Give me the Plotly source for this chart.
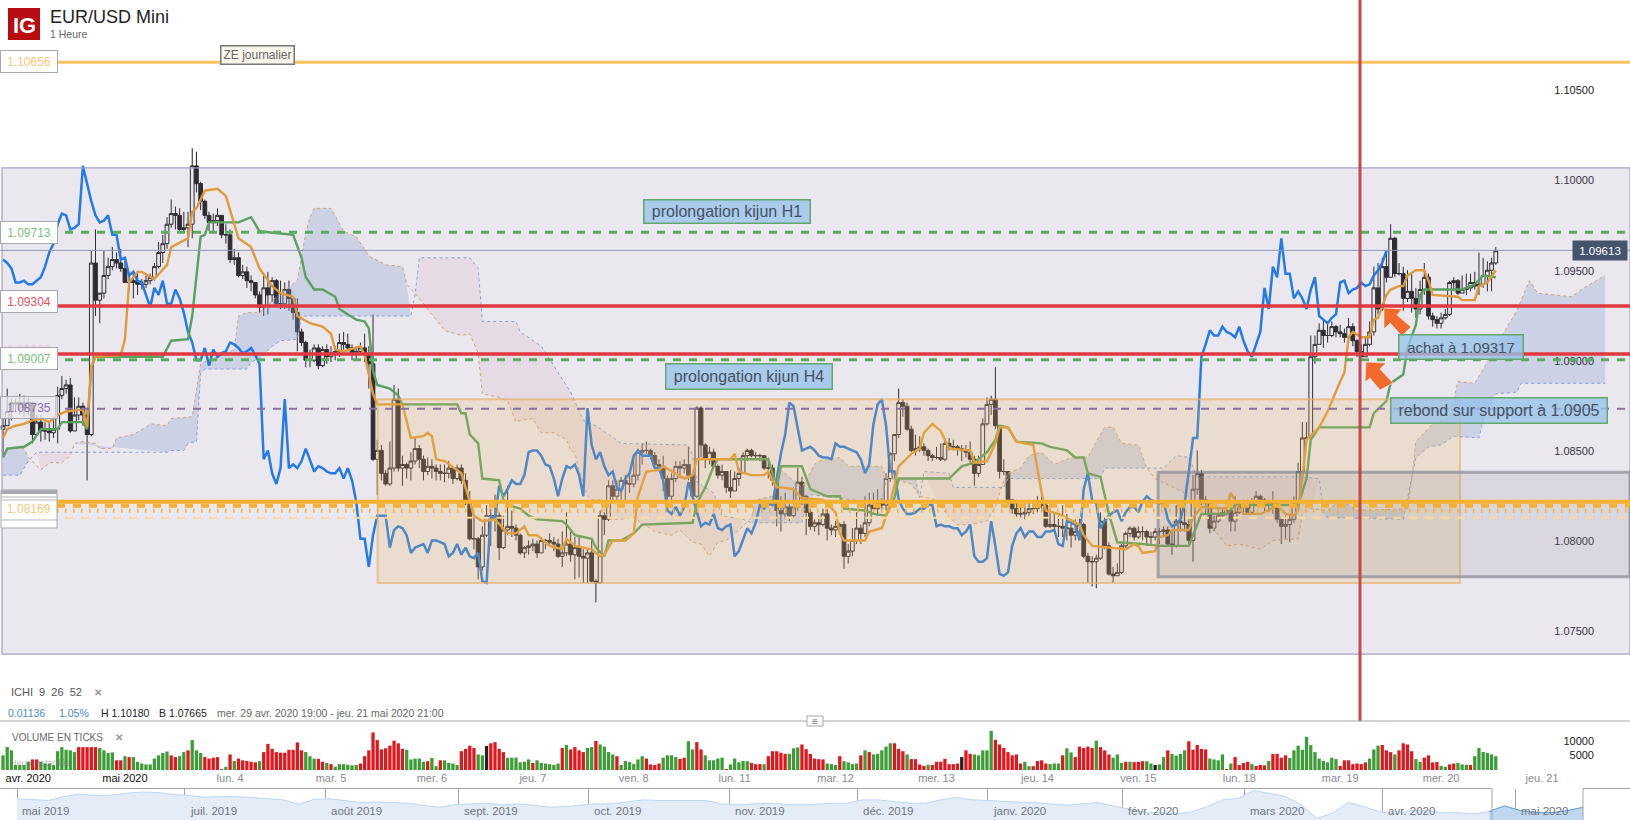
import plotly.graph_objects as go

W = 1630
H = 820

# candles in points (1.0935 -> 10935), open = previous close
close_pts = [
    10860,10868,10873,10872,10873,10870,10873,10855,10862,10857,
    10857,10856,10858,10877,10881,10883,10857,10866,10871,10866,
    10855,10952,10931,10935,10945,10950,10954,10952,10949,10941,
    10941,10942,10940,10940,10942,10944,10950,10958,10963,10974,
    10980,10979,10971,10972,10974,11007,10997,10987,10979,10975,
    10976,10979,10968,10968,10954,10955,10945,10947,10942,10941,
    10934,10927,10938,10934,10942,10929,10929,10937,10932,10924,
    10913,10907,10897,10897,10904,10894,10903,10899,10901,10902,
    10907,10906,10904,10901,10902,10904,10900,10895,10841,10846,
    10833,10827,10836,10875,10836,10838,10836,10840,10847,10841,
    10834,10837,10836,10834,10833,10833,10836,10830,10836,10829,
    10817,10796,10796,10780,10798,10809,10809,10809,10791,10801,
    10803,10802,10798,10788,10791,10792,10793,10788,10795,10795,
    10794,10793,10786,10788,10793,10787,10791,10786,10785,10788,
    10772,10771,10809,10807,10826,10820,10824,10829,10827,10827,
    10832,10845,10846,10846,10843,10838,10837,10830,10820,10830,
    10837,10836,10838,10832,10820,10870,10849,10841,10845,10837,
    10832,10834,10825,10823,10830,10833,10843,10846,10843,10843,
    10843,10836,10836,10829,10812,10810,10814,10809,10814,10828,
    10820,10811,10803,10805,10804,10810,10802,10801,10803,10804,
    10786,10789,10795,10802,10799,10805,10815,10813,10816,10815,
    10830,10844,10855,10873,10871,10858,10846,10847,10848,10846,
    10843,10842,10842,10841,10850,10848,10848,10847,10846,10845,
    10841,10833,10838,10861,10872,10875,10860,10834,10834,10818,
    10813,10810,10810,10811,10813,10813,10815,10815,10803,10804,
    10803,10803,10802,10802,10798,10800,10804,10786,10783,10783,
    10785,10806,10792,10776,10775,10777,10792,10799,10802,10797,
    10800,10800,10797,10797,10800,10800,10801,10793,10792,10806,
    10805,10804,10795,10824,10833,10818,10816,10802,10806,10809,
    10811,10812,10806,10811,10814,10814,10811,10817,10820,10818,
    10817,10816,10817,10807,10803,10804,10807,10816,10834,10853,
    10853,10899,10906,10914,10911,10911,10916,10913,10912,10910,
    10916,10908,10902,10899,10906,10913,10938,10926,10950,10944,
    10966,10946,10946,10932,10936,10932,10926,10937,10944,10922,
    10920,10918,10921,10923,10941,10942,10935,10937,10938,10941,
    10939,10940,10945,10948,10952,10959]
high_pts = [
    10864,10881,10875,10875,10878,10877,10876,10873,10866,10866,
    10862,10862,10863,10882,10888,10886,10887,10876,10876,10873,
    10870,10959,10971,10935,10959,10955,10961,10958,10960,10953,
    10945,10946,10946,10943,10945,10946,10952,10964,10968,10978,
    10988,10984,10983,10981,10981,11017,11015,10998,10988,10981,
    10980,10983,10975,10974,10971,10960,10958,10951,10950,10945,
    10941,10936,10945,10947,10944,10943,10942,10941,10942,10932,
    10932,10915,10908,10903,10906,10906,10905,10906,10905,10905,
    10912,10913,10912,10906,10904,10907,10912,10905,10923,10852,
    10849,10835,10851,10883,10881,10843,10839,10845,10853,10849,
    10843,10842,10841,10838,10838,10838,10840,10837,10838,10838,
    10833,10823,10808,10797,10803,10815,10813,10821,10811,10809,
    10826,10812,10804,10799,10792,10795,10796,10795,10797,10796,
    10799,10797,10796,10800,10811,10800,10797,10797,10790,10790,
    10796,10773,10812,10811,10829,10829,10829,10831,10832,10835,
    10842,10847,10850,10851,10847,10845,10841,10843,10832,10833,
    10840,10840,10841,10848,10833,10871,10871,10850,10848,10847,
    10838,10838,10833,10835,10834,10836,10845,10847,10847,10845,
    10844,10842,10842,10838,10831,10820,10822,10816,10825,10836,
    10831,10821,10813,10807,10809,10813,10813,10804,10806,10805,
    10806,10793,10802,10811,10804,10820,10822,10822,10824,10819,
    10833,10845,10855,10881,10875,10873,10860,10855,10854,10850,
    10847,10844,10848,10850,10852,10853,10852,10849,10849,10849,
    10851,10843,10843,10864,10876,10877,10893,10858,10841,10832,
    10818,10818,10814,10816,10818,10816,10820,10820,10817,10813,
    10811,10809,10815,10810,10807,10807,10808,10805,10788,10786,
    10787,10811,10808,10794,10780,10782,10793,10800,10803,10803,
    10803,10803,10801,10800,10802,10802,10803,10803,10801,10815,
    10815,10815,10807,10832,10846,10835,10820,10812,10809,10813,
    10813,10818,10814,10820,10818,10818,10818,10819,10823,10821,
    10819,10818,10823,10817,10808,10809,10810,10820,10839,10862,
    10862,10911,10911,10918,10920,10918,10919,10917,10917,10915,
    10921,10918,10909,10906,10910,10919,10950,10952,10955,10958,
    10974,10967,10952,10950,10948,10946,10938,10942,10952,10946,
    10924,10922,10924,10926,10942,10944,10943,10945,10946,10946,
    10947,10958,10955,10953,10955,10961]
low_pts = [
    10842,10860,10863,10868,10866,10865,10866,10850,10855,10851,
    10852,10851,10853,10850,10875,10878,10856,10857,10863,10860,
    10829,10854,10922,10918,10932,10943,10948,10949,10947,10941,
    10937,10932,10934,10937,10938,10940,10942,10949,10952,10960,
    10972,10971,10969,10970,10961,10966,10992,10982,10977,10970,
    10970,10973,10966,10963,10952,10951,10944,10943,10938,10936,
    10932,10924,10922,10923,10930,10928,10926,10926,10925,10920,
    10902,10905,10893,10893,10896,10892,10893,10895,10896,10897,
    10899,10903,10902,10897,10897,10900,10896,10881,10840,10821,
    10829,10826,10826,10834,10834,10826,10830,10829,10838,10836,
    10829,10832,10830,10829,10829,10828,10830,10827,10829,10827,
    10815,10795,10790,10773,10778,10797,10792,10800,10784,10790,
    10798,10797,10795,10787,10785,10787,10789,10785,10788,10790,
    10792,10789,10785,10780,10786,10783,10773,10774,10771,10771,
    10771,10760,10771,10798,10806,10816,10818,10818,10817,10822,
    10825,10829,10838,10844,10841,10836,10834,10823,10818,10817,
    10828,10830,10833,10829,10818,10819,10842,10836,10838,10836,
    10830,10829,10822,10819,10823,10826,10833,10840,10842,10841,
    10840,10835,10830,10826,10803,10800,10807,10806,10808,10812,
    10815,10798,10801,10800,10798,10803,10795,10798,10797,10801,
    10779,10782,10786,10793,10793,10797,10803,10810,10809,10812,
    10812,10828,10840,10853,10865,10857,10845,10843,10845,10843,
    10840,10840,10841,10840,10840,10846,10846,10843,10840,10842,
    10839,10826,10831,10838,10860,10866,10858,10830,10832,10815,
    10810,10808,10808,10807,10809,10810,10811,10812,10802,10802,
    10801,10797,10797,10795,10791,10795,10799,10785,10771,10769,
    10768,10784,10790,10775,10771,10775,10776,10790,10797,10795,
    10796,10795,10792,10793,10795,10793,10797,10792,10787,10791,
    10800,10800,10793,10783,10821,10815,10810,10799,10800,10805,
    10808,10809,10800,10800,10810,10810,10810,10810,10816,10815,
    10811,10811,10810,10805,10793,10796,10794,10805,10815,10830,
    10850,10852,10895,10906,10904,10907,10910,10910,10910,10907,
    10909,10905,10899,10899,10902,10905,10911,10923,10925,10941,
    10945,10944,10945,10925,10930,10924,10921,10923,10934,10920,
    10916,10915,10915,10920,10922,10936,10934,10935,10934,10936,
    10937,10934,10938,10936,10936,10951]

# ichimoku lines, only the turning points, bar number + points
tenkan_bar = [0,1,3,5,7,9,11,13,15,19,20,21,22,28,29,30,32,33,36,39,40,44,45,46,48,51,53,56,59,61,64,66,69,70,73,76,78,79,81,84,85,86,88,89,95,97,100,101,102,103,105,109,110,112,114,117,120,122,124,125,127,130,133,134,136,140,142,143,145,148,150,151,153,156,157,160,162,164,165,170,173,174,175,178,181,182,183,184,185,188,190,195,198,199,200,205,206,209,211,213,216,218,219,221,223,225,230,231,234,236,237,239,241,245,246,247,248,251,256,257,259,264,267,269,270,271,274,275,277,278,282,283,285,291,292,294,295,299,301,303,305,307,308,309,310,313,315,318,319,320,321,323,325,326,327,329,330,332,333,334,336,338,339,340,346,347,350,351,353,355]
tenkan_pts = [10853,10858,10860,10861,10863,10864,10862,10866,10868,10869,10859,10894,10899,10900,10909,10941,10947,10947,10943,10951,10961,10966,10981,10983,10993,10994,10990,10966,10961,10949,10939,10935,10933,10922,10918,10916,10912,10903,10902,10904,10905,10900,10878,10872,10872,10853,10854,10856,10854,10841,10840,10833,10825,10809,10806,10807,10799,10799,10803,10798,10798,10792,10790,10796,10792,10790,10786,10787,10795,10795,10799,10820,10834,10835,10837,10833,10830,10832,10841,10841,10841,10844,10834,10832,10832,10834,10829,10825,10825,10824,10819,10818,10811,10799,10795,10795,10800,10802,10816,10837,10844,10847,10856,10861,10857,10847,10846,10839,10840,10850,10859,10859,10851,10849,10835,10822,10812,10810,10804,10798,10792,10791,10790,10793,10792,10788,10789,10797,10798,10801,10801,10808,10814,10813,10822,10813,10810,10810,10812,10815,10810,10809,10812,10830,10852,10859,10868,10885,10890,10910,10913,10910,10910,10920,10921,10934,10937,10939,10939,10945,10948,10948,10942,10934,10933,10931,10931,10939,10941,10948]
kijun_bar = [0,1,5,7,9,13,14,19,20,21,22,38,40,44,45,47,48,49,56,59,61,69,71,72,74,76,79,80,84,86,87,88,89,92,94,95,108,109,110,111,113,114,118,119,120,123,125,127,133,134,136,140,141,143,144,147,150,152,164,165,167,169,170,182,184,185,190,192,193,196,199,200,205,207,210,212,213,225,228,231,234,236,237,239,241,247,249,253,255,257,258,261,263,265,271,275,282,284,285,291,293,308,310,311,313,325,326,329,330,333,334,336,337,338,347,350,352,355]
kijun_pts = [10842,10847,10848,10851,10858,10858,10862,10862,10858,10893,10899,10899,10908,10909,10922,10967,10968,10975,10975,10978,10970,10968,10955,10944,10937,10937,10933,10926,10920,10919,10915,10891,10883,10881,10877,10872,10872,10867,10867,10855,10850,10830,10829,10818,10815,10813,10809,10807,10806,10804,10798,10796,10791,10786,10795,10795,10799,10804,10805,10816,10825,10837,10841,10841,10825,10837,10837,10824,10823,10820,10820,10813,10812,10810,10809,10819,10830,10830,10837,10839,10845,10852,10860,10859,10851,10850,10848,10846,10842,10842,10833,10831,10810,10794,10793,10792,10792,10804,10810,10810,10815,10815,10830,10852,10859,10859,10867,10874,10884,10889,10904,10917,10934,10937,10937,10940,10945,10944]
senkou_a_bar = [0,1,5,6,9,11,14,16,17,19,22,23,26,27,31,34,35,39,40,45,46,47,55,56,58,61,66,70,72,73,74,78,81,84,87,91,95,96,98,101,105,109,111,113,114,118,120,122,123,126,128,131,134,135,136,137,139,140,142,144,147,150,155,159,161,164,166,168,170,172,175,178,179,183,185,190,193,194,199,201,205,209,210,216,218,222,225,227,230,234,236,238,239,242,244,247,250,254,258,260,262,264,266,270,272,274,281,284,291,294,299,302,308,309,311,315,318,322,334,335,336,340,344,346,350,353,356,360,363,365,373,376,381]
senkou_a_pts = [10842,10847,10847,10842,10835,10839,10839,10843,10850,10851,10850,10847,10847,10853,10855,10859,10861,10860,10864,10865,10880,10895,10903,10922,10924,10924,10935,10942,10969,10978,10983,10983,10970,10967,10956,10951,10950,10940,10935,10926,10914,10911,10912,10901,10878,10876,10874,10862,10863,10864,10856,10856,10852,10846,10845,10834,10820,10818,10818,10807,10807,10808,10800,10798,10801,10794,10793,10786,10794,10795,10801,10808,10818,10820,10835,10825,10838,10840,10842,10837,10837,10837,10831,10827,10820,10818,10808,10804,10804,10806,10814,10829,10833,10836,10843,10845,10838,10842,10842,10851,10859,10859,10850,10849,10836,10830,10822,10814,10792,10793,10790,10795,10796,10810,10813,10812,10818,10812,10813,10829,10851,10861,10864,10885,10884,10896,10909,10925,10942,10935,10933,10938,10945]
senkou_b_bar = [0,4,6,8,16,39,40,43,44,46,47,48,58,59,61,64,66,70,71,97,98,99,111,113,114,122,123,128,135,138,141,147,163,164,165,169,171,176,178,185,190,191,192,209,210,217,218,219,225,226,238,239,247,261,262,276,279,282,284,308,313,314,315,333,336,339,342,345,351,352,355,360,361,381]
senkou_b_pts = [10832,10832,10840,10845,10845,10845,10846,10846,10850,10851,10890,10892,10892,10896,10898,10905,10908,10909,10922,10922,10934,10955,10955,10949,10919,10919,10913,10905,10879,10863,10860,10850,10849,10843,10828,10822,10809,10807,10805,10805,10805,10816,10821,10816,10830,10830,10819,10834,10833,10825,10825,10830,10830,10830,10836,10836,10843,10842,10831,10831,10830,10811,10808,10807,10842,10848,10849,10854,10853,10863,10878,10879,10884,10884]
# where the cloud flips colour, bar numbers
cloud_flips = [0, 6.5, 16.5, 97.5, 177, 218.5, 238, 272.5, 313.8, 381]
cloud_first_up = True

volume = [
    5000,7800,6700,1700,1700,1700,2800,3600,3600,2800,
    2200,2200,1700,6400,7800,6900,6700,6100,7800,7800,
    7800,7800,7800,7500,6700,5800,6000,3300,3300,4700,
    4400,4400,2800,2200,1900,1900,3900,5000,5800,6300,
    5000,4400,4700,6100,6700,10200,6700,5800,4400,3900,
    4200,4400,200,1100,5300,3100,3900,3300,3100,2800,
    2600,3000,6100,8900,7200,6100,5900,5900,6900,6900,
    9400,6700,6100,4700,3900,3800,2800,2400,2000,1100,
    2000,2000,1800,1600,1700,2200,4700,6700,12800,10200,
    7000,7400,8300,10000,9100,7200,6900,3600,3900,3900,
    2800,3000,4100,1300,3300,3300,2400,2200,1700,6400,
    7200,8300,7500,5300,5000,8200,9100,9500,7200,6100,
    4200,4200,4200,2600,2800,3600,2400,3300,2400,2200,
    2000,1700,2200,7500,8500,7000,7800,6700,6100,7500,
    7800,9900,8700,8000,6100,5300,4700,1700,3100,2700,
    2000,3600,4700,3900,1900,1700,2200,4200,5000,5000,
    4400,3800,4200,9800,7000,9500,7000,5000,3300,3300,
    3900,4200,200,1900,3900,2600,3100,3000,2400,2000,
    2000,2000,4700,6400,6400,5900,5500,5500,7400,7700,
    8700,7100,5500,
    3900,3700,3600,2200,2000,1700,4700,3000,2600,2000,2200,
    5000,6700,6100,5300,5500,6700,8000,9100,9100,7200,6400,
    5300,3700,3700,1900,1400,1800,1700,2800,2800,3800,2000,
    2000,2200,4400,6700,5500,5300,5000,6700,6700,13300,10300,
    8700,7500,6100,5000,5300,2200,2800,1300,1300,3100,3300,
    2200,2000,2200,2200,5000,7400,6000,4400,8000,7500,8000,
    7500,10000,7800,6700,5300,4200,5300,2400,2800,2800,2700,
    2800,3000,3000,2200,1700,1900,4400,6700,5500,4900,5500,
    6700,9800,6900,8500,7200,7000,3900,3600,3300,5300,200,
    2200,4400,1700,2400,2800,2000,1400,1700,1600,3100,5500,
    5500,4200,5000,4100,6700,8300,6900,11300,8500,6100,3900,
    3100,2600,4200,3700,1400,3300,3300,2000,2200,2000,2600,
    3900,7000,8300,8500,6700,6100,5300,6700,9100,8700,6400,
    3700,2800,4200,5000,2600,2700,1400,1100,1900,2200,2400,
    1900,1800,1700,4700,7500,6100,5800,5300,4700]
# colour of the volume bars as runs: u green, d red, n black
volume_runs = [
    ("u",7),("d",2),("u",9),("d",5),("u",4),("d",2),("u",1),("d",1),("u",9),("d",2),
    ("u",2),("d",1),("u",3),("d",4),("u",2),("d",1),("u",1),("d",5),("u",1),("d",10),
    ("u",3),("d",2),("u",1),("d",1),("u",6),("d",11),("u",5),("d",1),("u",2),("d",1),
    ("u",4),("d",4),("u",2),("n",1),("d",4),("u",6),("d",1),("u",1),("u",5),("d",1),
    ("u",1),("d",4),("u",2),("d",1),("u",4),("d",1),("u",6),("d",4),("u",4),("d",2),
    ("u",2),("d",2),("u",5),("d",1),("u",5),("d",3),("u",1),("d",5),("u",3),("d",3),
    ("d",3),("u",3),("d",1),("u",4),("d",1),("u",1),("d",1),("u",5),("d",3),("u",1),
    ("d",4),("u",1),("d",7),("n",1),("d",2),("u",5),("d",7),("u",2),("d",4),("u",3),
    ("d",1),("u",2),("d",5),("u",1),("d",3),("u",3),("d",1),("u",1),("d",3),("u",2),
    ("n",1),("u",2),("d",1),("u",4),("d",5),("u",4),("d",1),("u",1),("d",4),("u",1),
    ("d",3),("u",1),("d",4),("u",10),("u",2),("d",7),("u",3),("d",3),("u",1),("d",4),
    ("u",2),("d",4),("u",2),("d",2),("u",3),("d",1),("u",6)]

# navigator line, one year of EUR/USD
nav_close = [
    1.1234,1.1205,1.1186,1.1300,1.1367,1.1329,1.1338,1.1395,1.1424,1.1414,
    1.1357,1.1329,1.1281,1.1300,1.1300,1.1272,1.1234,1.1205,1.1082,1.1224,
    1.1234,1.1186,1.1129,1.1148,1.1129,1.1110,1.1044,1.0996,1.1072,1.1091,
    1.1110,1.1063,1.1091,1.1053,1.0996,1.1015,1.1053,1.1091,1.1091,1.1158,
    1.1205,1.1186,1.1186,1.1205,1.1186,1.1091,1.1063,1.1091,1.1110,1.1082,
    1.1063,1.1082,1.1110,1.1110,1.1205,1.1205,1.1158,1.1110,1.1110,1.1205,
    1.1272,1.1205,1.1186,1.1158,1.1139,1.1129,1.1091,1.1053,1.1091,1.1129,
    1.1034,1.0939,1.0854,1.0844,1.0806,1.0863,1.1015,1.1205,1.1253,1.1471,
    1.1376,1.1300,1.1063,1.0683,1.0825,1.1129,1.1015,1.0873,1.0806,1.0901,
    1.0901,1.0844,1.0844,1.0806,1.0873,1.1034,1.0901,1.0844,1.0844,1.0901,1.0996]
nav_month_pos = [0, 10.7, 19.7, 28.2, 36.5, 45.5, 53.7, 62, 70.6, 78.4, 87.2, 95.7]
nav_month_text = ["mai 2019","juil. 2019","août 2019","sept. 2019","oct. 2019","nov. 2019","déc. 2019",
                  "janv. 2020","févr. 2020","mars 2020","avr. 2020","mai 2020"]
nav_selected_from = 94

# levels drawn on the chart
level_orange = 1.10656
level_green_h1 = 1.09713
level_last = 1.09613
level_red_top = 1.09304
level_red_low = 1.09038
level_green_h4 = 1.09007
level_purple = 1.08735
level_thick = 1.0822
level_blocks = 1.08197
level_ticks = 1.08169
level_pale = 1.08131

price_ticks = [1.075, 1.08, 1.085, 1.09, 1.095, 1.10, 1.105]
volume_ticks = [5000, 10000]
day_bars = [6,29,54,78,102,126,150,174,198,222,246,270,294,318,342,366]
day_text = ["avr. 2020","mai 2020","lun. 4","mar. 5","mer. 6","jeu. 7","ven. 8","lun. 11","mar. 12","mer. 13",
            "jeu. 14","ven. 15","lun. 18","mar. 19","mer. 20","jeu. 21"]


def to_price(pts):
    # the point readings were taken against a slightly off ruler, this brings them on the price axis
    return [round((11100.1 - (11100.9 - p) * 0.97951) / 10000, 5) for p in pts]


def px(x):
    return x / W


def py(y):
    return 1 - y / H


closes = to_price(close_pts)
highs = to_price(high_pts)
lows = to_price(low_pts)
opens = [closes[0] - 0.0002] + closes[:-1]
highs = [max(v) for v in zip(highs, opens, closes)]
lows = [min(v) for v in zip(lows, opens, closes)]
bars = list(range(len(closes)))

fig = go.Figure()

# cloud
a_y = to_price(senkou_a_pts)
b_y = to_price(senkou_b_pts)
up = cloud_first_up
for s, e in zip(cloud_flips[:-1], cloud_flips[1:]):
    a_part = [(x, y) for x, y in zip(senkou_a_bar, a_y) if s <= x <= e]
    b_part = [(x, y) for x, y in zip(senkou_b_bar, b_y) if s <= x <= e]
    poly = a_part + b_part[::-1]
    fig.add_trace(go.Scatter(x=[p[0] for p in poly], y=[p[1] for p in poly], mode="lines", fill="toself",
                             fillcolor="rgba(135,165,220,0.30)" if up else "rgba(230,185,195,0.22)",
                             line=dict(width=0), hoverinfo="skip", showlegend=False))
    up = not up
fig.add_trace(go.Scatter(x=senkou_a_bar, y=a_y, mode="lines", line=dict(color="#dda765", width=1, dash="dot"),
                         hoverinfo="skip", showlegend=False))
fig.add_trace(go.Scatter(x=senkou_b_bar, y=b_y, mode="lines", line=dict(color="#7fa8dc", width=1, dash="dot"),
                         hoverinfo="skip", showlegend=False))

fig.add_trace(go.Candlestick(x=bars, open=opens, high=highs, low=lows, close=closes, whiskerwidth=0,
                             increasing=dict(line=dict(color="#161616", width=1), fillcolor="rgba(255,255,255,0.55)"),
                             decreasing=dict(line=dict(color="#161616", width=1), fillcolor="#161616"),
                             showlegend=False))

# chikou is the close moved 26 bars back
fig.add_trace(go.Scatter(x=bars[:-26], y=closes[26:], mode="lines", line=dict(color="#0878f2", width=2.5),
                         hoverinfo="skip", showlegend=False))
fig.add_trace(go.Scatter(x=kijun_bar, y=to_price(kijun_pts), mode="lines", line=dict(color="#4aa84c", width=2.4),
                         hoverinfo="skip", showlegend=False))
fig.add_trace(go.Scatter(x=tenkan_bar, y=to_price(tenkan_pts), mode="lines", line=dict(color="#f2a01c", width=2.4),
                         hoverinfo="skip", showlegend=False))

# volume
run_colors = {"u": "#3d9c37", "d": "#e2161d", "n": "#222222"}
volume_colors = []
for kind, count in volume_runs:
    volume_colors += [run_colors[kind]] * count
fig.add_trace(go.Bar(x=list(range(len(volume))), y=volume, marker=dict(color=volume_colors, line=dict(width=0)),
                     xaxis="x2", yaxis="y2", showlegend=False))

# navigator
nav_x = list(range(len(nav_close)))
fig.add_trace(go.Scatter(x=nav_x, y=nav_close, mode="lines", line=dict(color="#bcd5ee", width=1), fill="tozeroy",
                         fillcolor="#e4edf7", xaxis="x3", yaxis="y3", hoverinfo="skip", showlegend=False))
fig.add_trace(go.Scatter(x=nav_x[nav_selected_from:], y=nav_close[nav_selected_from:], mode="lines",
                         line=dict(color="#5f9fdc", width=1), fill="tozeroy", fillcolor="#bfd7ef",
                         xaxis="x3", yaxis="y3", hoverinfo="skip", showlegend=False))

bar_range = [(0 - 3) / 4.205, (W - 3) / 4.205]
shapes = []


def hline(price, start, color, width, dash="solid"):
    shapes.append(dict(type="line", xref="paper", yref="y", x0=px(start), x1=1, y0=price, y1=price,
                       line=dict(color=color, width=width, dash=dash), layer="above"))


# purple zone, tan box, grey box all sit over the candles
shapes.append(dict(type="rect", xref="paper", yref="y", x0=px(2), x1=1, y0=1.07375, y1=1.1007,
                   fillcolor="rgba(150,135,175,0.2)", line=dict(color="#a99fc4", width=1.2), layer="above"))
shapes.append(dict(type="rect", xref="x", yref="y", x0=89.1, x1=346.5, y0=1.07769, y1=1.08787,
                   fillcolor="rgba(238,182,90,0.22)", line=dict(color="rgba(230,175,100,0.65)", width=2), layer="above"))
shapes.append(dict(type="rect", xref="x", yref="y", x0=274.7, x1=bar_range[1], y0=1.07804, y1=1.08383,
                   fillcolor="rgba(120,120,135,0.14)", line=dict(color="rgba(130,130,145,0.65)", width=3), layer="above"))

hline(level_orange, 57, "#f8c462", 3)
hline(level_green_h1, 65, "#58b05c", 3, "8px,8px")
hline(level_last, 0, "#8f97b3", 1)
hline(level_red_top, 57, "#e0393f", 3.5)
hline(level_red_low, 57, "#e0393f", 3.5)
hline(level_green_h4, 65, "#58b05c", 3, "8px,8px")
hline(level_purple, 65, "#8a6fa8", 2, "8px,8px")
hline(level_thick, 57, "#f5b12e", 4)
hline(level_blocks, 57, "#f5b12e", 4, "8px,8px")
hline(level_ticks, 57, "#f5b12e", 4, "1.5px,6.5px")
hline(level_pale, 65, "#fbdc9e", 2, "8px,8px")

# vertical marker
shapes.append(dict(type="line", xref="paper", yref="paper", x0=px(1360), x1=px(1360), y0=py(721), y1=1,
                   line=dict(color="rgba(188,68,72,0.95)", width=3), layer="above"))

# orange arrows
arrow1 = [(1384, 308), (1402, 309), (1397, 315), (1411, 327), (1402, 336), (1390, 323), (1384, 329)]
arrow2 = [(1366, 362), (1386, 363), (1380, 369), (1393, 383), (1380, 390), (1370, 378), (1365, 382)]
for arrow in (arrow1, arrow2):
    path = "M " + " L ".join(f"{px(x):.5f},{py(y):.5f}" for x, y in arrow) + " Z"
    shapes.append(dict(type="path", xref="paper", yref="paper", path=path, fillcolor="#f26a2e",
                       line=dict(color="white", width=0.5), layer="above"))

# logo, panel separators
shapes.append(dict(type="rect", xref="paper", yref="paper", x0=px(8), x1=px(40), y0=py(40), y1=py(8),
                   fillcolor="#b80c12", line=dict(width=0), layer="above"))
shapes.append(dict(type="line", xref="paper", yref="paper", x0=0, x1=1, y0=py(721), y1=py(721),
                   line=dict(color="#a6a6ae", width=1), layer="above"))
shapes.append(dict(type="rect", xref="paper", yref="paper", x0=px(807), x1=px(823), y0=py(726), y1=py(716),
                   fillcolor="white", line=dict(color="#a6a6ae", width=1), layer="above"))
for seg in ((0, 1492), (1583, 1630)):
    shapes.append(dict(type="line", xref="paper", yref="paper", x0=px(seg[0]), x1=px(seg[1]), y0=py(788.5), y1=py(788.5),
                       line=dict(color="#a2a2ac", width=1), layer="above"))
for edge in (1492, 1583):
    shapes.append(dict(type="line", xref="paper", yref="paper", x0=px(edge), x1=px(edge), y0=0, y1=py(788.5),
                       line=dict(color="#a2a2ac", width=1), layer="above"))

# box behind the 1.08169 label, stacked with several older labels
shapes.append(dict(type="rect", xref="paper", yref="paper", x0=px(1), x1=px(57), y0=py(528), y1=py(490),
                   fillcolor="white", line=dict(color="#a8a8b0", width=1), layer="above"))
shapes.append(dict(type="rect", xref="paper", yref="paper", x0=px(1), x1=px(57), y0=py(494), y1=py(490),
                   fillcolor="#a8a8b0", line=dict(width=0), layer="above"))
for yy in (497, 500, 520):
    shapes.append(dict(type="line", xref="paper", yref="paper", x0=px(1), x1=px(57), y0=py(yy), y1=py(yy),
                       line=dict(color="#b4b4bc", width=1), layer="above"))

notes = []


def note(text, x, y, size=11, color="#555", anchor="left", **kw):
    notes.append(dict(text=text, xref="paper", yref="paper", x=px(x), y=py(y), xanchor=anchor, yanchor="middle",
                      showarrow=False, font=dict(family="Liberation Sans", size=size, color=color), **kw))


def level_box(text, y, color, bg="white"):
    note(text, 29, y, 12, color, "center", bgcolor=bg, bordercolor="#a8a8b0", borderwidth=1, width=54, height=19)


level_box("1.10656", 62, "#f6c877")
level_box("1.09713", 232, "#7fbf7f")
level_box("1.09304", 301, "#e8505a")
note("1.09038", 29, 350, 12, "#f0c8cc", "center")
level_box("1.09007", 359, "#7fbf7f", "rgba(255,255,255,0.9)")
level_box("1.08735", 407, "#8a6fa8", "rgba(236,236,240,0.72)")
note("1.08169", 29, 509, 12, "#f6c877", "center")

note("<b>IG</b>", 24, 25, 22, "white", "center")
note("EUR/USD Mini", 48, 17, 18, "#222")
note("1 Heure", 48, 34, 10.5, "#666")

boxed = dict(bgcolor="rgba(150,195,235,0.78)", bordercolor="#62a86a", borderwidth=1.5)
note("ZE journalier", 257, 55, 12, "#666", "center", bgcolor="#f8f5ea", bordercolor="#777", borderwidth=1.5, width=70, height=15)
note("prolongation kijun H1", 727, 211, 16, "#47505f", "center", width=163, height=20, **boxed)
note("prolongation kijun H4", 749, 377, 16, "#47505f", "center", width=163, height=22, **boxed)
note("achat à 1.09317", 1461, 347, 15, "#47505f", "center", width=121, height=21, **boxed)
note("rebond sur support à 1.0905", 1499, 410, 16, "#47505f", "center", width=213, height=22, **boxed)
note("1.09613", 1600, 250, 11.5, "white", "center", bgcolor="#44546c", borderpad=2, width=50, height=15)

note("ICHI  9  26  52", 9, 692, 11, "#555")
note("<b>✕</b>", 92, 692, 10, "#999")
note("0.01136", 6, 713, 10.5, "#4a8cc8")
note("1.05%", 57, 713, 10.5, "#4a8cc8")
note("H 1.10180", 99, 713, 10.5, "#222")
note("B 1.07665", 157, 713, 10.5, "#222")
note("mer. 29 avr. 2020 19:00 - jeu. 21 mai 2020 21:00", 215, 713, 10.5, "#666")
note("VOLUME EN TICKS", 10, 737, 10, "#666")
note("<b>✕</b>", 113, 737, 10, "#999")
note("≡", 815, 721, 10, "#777", "center")
note("Heure retardée", 8, 763, 9, "rgba(120,120,120,0.55)")

for pos, text in zip(nav_month_pos, nav_month_text):
    notes.append(dict(text=text, xref="x3", yref="paper", x=pos, y=py(811), xanchor="left", yanchor="middle",
                      xshift=3, showarrow=False, font=dict(family="Liberation Sans", size=11.5, color="#6f7480")))

tick_labels = []
for n, t in enumerate(day_text):
    tick_labels.append(f'<span style="color:#111">{t}</span>' if n < 2 else t)

fig.update_layout(
    width=W, height=H, autosize=False, margin=dict(l=0, r=0, t=0, b=0),
    paper_bgcolor="white", plot_bgcolor="rgba(0,0,0,0)", bargap=0.22, showlegend=False,
    boxgap=0.12, boxgroupgap=0,
    font=dict(family="Liberation Sans", size=11, color="#333"),
    shapes=shapes, annotations=notes,
    xaxis=dict(domain=[0, 1], range=bar_range, anchor="y", showgrid=False, zeroline=False, showticklabels=False,
               ticks="", rangeslider=dict(visible=False), showline=False),
    yaxis=dict(domain=[py(721), 1], range=[1.07004, 1.11001], side="right", anchor="free", position=px(1597),
               ticklabelposition="inside", tickvals=price_ticks, ticktext=[f"{v:.5f}" for v in price_ticks],
               showgrid=False, zeroline=False, showline=False, ticks="", tickfont=dict(size=11, color="#222")),
    xaxis2=dict(domain=[0, 1], range=bar_range, anchor="y2", showgrid=False, zeroline=False, ticks="",
                tickvals=day_bars, ticktext=tick_labels, tickangle=0, tickfont=dict(size=11, color="#8a8a92"), showline=False),
    yaxis2=dict(domain=[py(770), py(721)], range=[0, 16700], side="right", anchor="free", position=px(1597),
                ticklabelposition="inside", tickvals=volume_ticks, ticktext=[str(v) for v in volume_ticks],
                showgrid=False, zeroline=False, showline=False, ticks="", tickfont=dict(size=11, color="#222")),
    xaxis3=dict(domain=[0, 1], range=[-17 / 15.66, (W - 17) / 15.66], anchor="y3", showticklabels=False, ticks="",
                tickvals=nav_month_pos, showgrid=True, gridcolor="#a2a2ac", gridwidth=1, zeroline=False, showline=False),
    yaxis3=dict(domain=[0, py(788.5)], range=[1.0636, 1.1527], showticklabels=False, showgrid=False, zeroline=False,
                ticks="", showline=False),
)

# the page has a default 8px body margin that would push the whole figure off
fig.write_html("out.html", post_script="document.body.style.margin='0';", config={"displayModeBar": False})
